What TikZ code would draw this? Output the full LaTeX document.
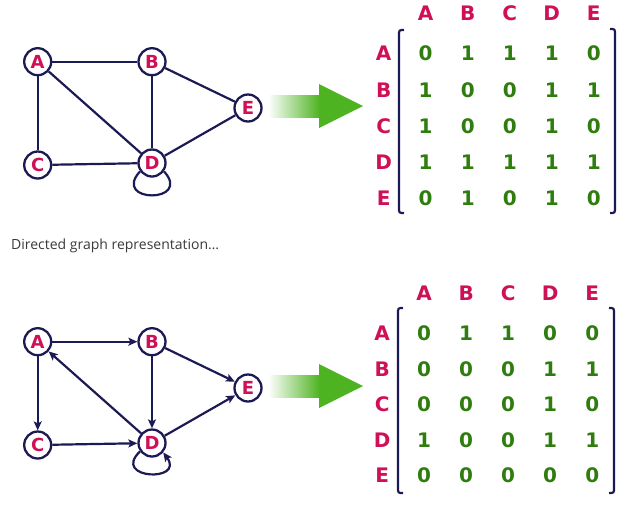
\documentclass[tikz,border=0pt]{standalone}
\usepackage{fontspec}
\setmainfont{Open Sans}
\newfontfamily\labelfont{DejaVu Sans}
\usetikzlibrary{matrix,arrows.meta}
\definecolor{edgeblue}{HTML}{1C1A55}
\definecolor{labelred}{HTML}{CF1056}
\definecolor{bitgreen}{HTML}{2F7D0E}
\definecolor{arrowgreen}{HTML}{4DB320}
\definecolor{captiongray}{HTML}{3A3A3A}
\tikzset{
  vertex/.style={circle, draw=edgeblue, fill=white, line width=2.3pt,
    minimum size=27pt, inner sep=0pt, text=labelred,
    font=\labelfont\fontsize{18}{18}\selectfont\bfseries},
  link/.style={draw=edgeblue, line width=2.2pt},
  arc/.style={link, -{Stealth[length=9pt,width=8pt,inset=2pt]}},
  paren/.style={draw=edgeblue, line width=2.2pt},
  adjmat/.style={matrix of nodes, inner sep=0pt, column sep=0pt, row sep=0pt,
    nodes={minimum width=42pt, minimum height=#1, inner sep=0pt, text=bitgreen,
      font=\labelfont\fontsize{20}{20}\selectfont\bfseries},
    row 1/.style={nodes={text=labelred}},
    column 1/.style={nodes={text=labelred}}},
  caption/.style={text=captiongray, font=\fontsize{14}{16}\selectfont, inner sep=0pt}
}
\begin{document}
\begin{tikzpicture}[x=1pt,y=-1pt]
  \useasboundingbox (0,0) rectangle (628,523);
  % undirected graph
  \begin{scope}[every node/.style=vertex]
    \draw
      (37.7,61.7) node (A){A}
      (152,61.7) node (B){B}
      (37.7,165) node (C){C}
      (152,163) node (D){D}
      (248,108) node (E){E};
  \end{scope}
  \begin{scope}[link]
    \draw (A) to (B);
    \draw (A) to (C);
    \draw (A) to (D);
    \draw (B) to (D);
    \draw (B) to (E);
    \draw (C) to (D);
    \draw (D) to (E);
    \draw (D.215) .. controls +(-29,32) and +(29,32) .. (D.-35);
  \end{scope}
  % arrow to matrix
  \shade[left color=white, right color=arrowgreen] (268,95) rectangle (320,117);
  \fill[arrowgreen] (319,84) -- (363,106) -- (319,128) -- cycle;
  \matrix (adjU) [adjmat=36.25pt, anchor=north west] at (362.5,-4.8) {
      & A & B & C & D & E \\[3.75pt]
    A & 0 & 1 & 1 & 1 & 0 \\
    B & 1 & 0 & 0 & 1 & 1 \\
    C & 1 & 0 & 0 & 1 & 0 \\
    D & 1 & 1 & 1 & 1 & 1 \\
    E & 0 & 1 & 0 & 1 & 0 \\
  };
  \draw[paren] (404,30) .. controls (399,30) .. (399,36) -- (399,207) .. controls (399,213) .. (404,213);
  \draw[paren] (610,29) .. controls (615,29) .. (615,35) -- (615,207) .. controls (615,213) .. (610,213);

  \node[caption, anchor=west] (cap) at (11,246) {Directed graph representation…};

  % directed graph
  \begin{scope}[every node/.style=vertex]
    \draw
      (37.7,341.7) node (A2){A}
      (152,341.7) node (B2){B}
      (37.7,445) node (C2){C}
      (152,443) node (D2){D}
      (248,388) node (E2){E};
  \end{scope}
  \begin{scope}[arc]
    \draw (A2) to (B2);
    \draw (A2) to (C2);
    \draw (D2) to (A2);
    \draw (B2) to (D2);
    \draw (B2) to (E2);
    \draw (C2) to (D2);
    \draw (D2) to (E2);
    \draw (D2.215) .. controls +(-29,28) and +(22,30) .. (D2.-40);
  \end{scope}
  \shade[left color=white, right color=arrowgreen] (268,375) rectangle (320,397);
  \fill[arrowgreen] (319,364) -- (363,386) -- (319,408) -- cycle;
  \matrix (adjD) [adjmat=35.5pt, anchor=north west] at (361,275) {
      & A & B & C & D & E \\[5pt]
    A & 0 & 1 & 1 & 0 & 0 \\
    B & 0 & 0 & 0 & 1 & 1 \\
    C & 0 & 0 & 0 & 1 & 0 \\
    D & 1 & 0 & 0 & 1 & 1 \\
    E & 0 & 0 & 0 & 0 & 0 \\
  };
  \draw[paren] (403,308) .. controls (398,308) .. (398,314) -- (398,487) .. controls (398,493) .. (403,493);
  \draw[paren] (609,308) .. controls (614,308) .. (614,314) -- (614,487) .. controls (614,493) .. (609,493);
\end{tikzpicture}
\end{document}
